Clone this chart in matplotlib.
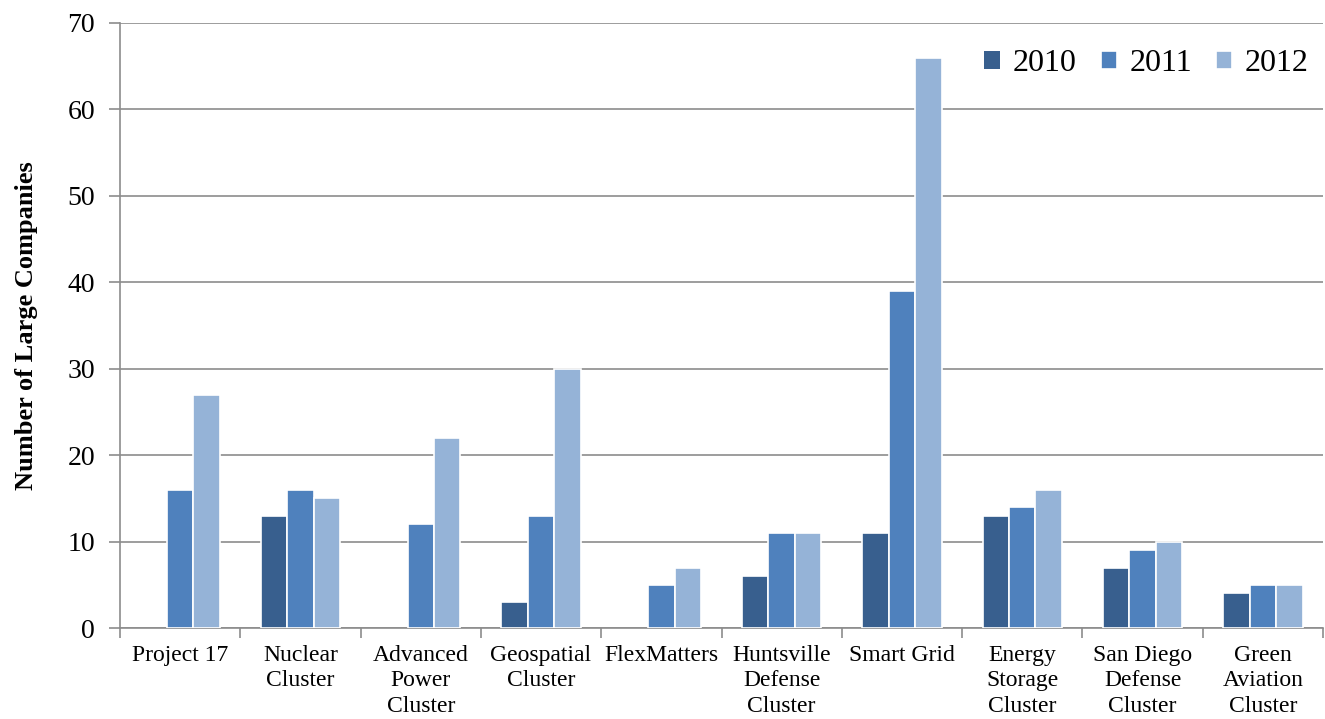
import numpy as np
import matplotlib.pyplot as plt

# data
categories = ["Project 17", "Nuclear\nCluster", "Advanced\nPower\nCluster",
              "Geospatial\nCluster", "FlexMatters", "Huntsville\nDefense\nCluster",
              "Smart Grid", "Energy\nStorage\nCluster", "San Diego\nDefense\nCluster",
              "Green\nAviation\nCluster"]
years = ["2010", "2011", "2012"]
v2010 = [0, 13, 0, 3, 0, 6, 11, 13, 7, 4]
v2011 = [16, 16, 12, 13, 5, 11, 39, 14, 9, 5]
v2012 = [27, 15, 22, 30, 7, 11, 66, 16, 10, 5]
colors = ["#385F8E", "#4F81BD", "#95B3D7"]

plt.rcParams['font.family'] = ['Liberation Serif', 'DejaVu Serif']

fig = plt.figure(figsize=(13.25, 7.19), dpi=100)
ax = fig.add_axes([120/1325, 91/719, 1203/1325, 605/719])

x = np.arange(len(categories))
w = 0.22
for i, vals in enumerate([v2010, v2011, v2012]):
    vals = np.array(vals)
    lw = np.where(vals > 0, 1.2, 0)  # no white edge on empty bars
    ax.bar(x + (i-1)*w, vals, w, color=colors[i], edgecolor='white',
           linewidth=lw, label=years[i], zorder=3)

ax.set_xlim(-0.5, len(categories)-0.5)
ax.set_ylim(0, 70)
ax.set_yticks(np.arange(0, 71, 10))
ax.yaxis.grid(True, color='#8c8c8c', linewidth=1.2, zorder=0)
ax.set_axisbelow(True)

# category labels centred, ticks on the boundaries
ax.set_xticks(x)
ax.set_xticklabels(categories, fontsize=17, linespacing=1.3)
ax.set_xticks(np.arange(-0.5, len(categories), 1), minor=True)
ax.tick_params(axis='x', which='major', length=0, pad=12)
ax.tick_params(axis='x', which='minor', length=7, color='#8c8c8c', width=1.2)
ax.tick_params(axis='y', length=8, color='#8c8c8c', width=1.2, labelsize=20, pad=10)

for s in ['top', 'right']:
    ax.spines[s].set_visible(False)
for s in ['left', 'bottom']:
    ax.spines[s].set_color('#8c8c8c')
    ax.spines[s].set_linewidth(1.2)

ax.set_ylabel("Number of Large Companies", fontsize=19, fontweight='bold')
ax.yaxis.set_label_coords(-82/1203, 0.5)

leg = ax.legend(loc='upper right', bbox_to_anchor=(1.012, 1.004), ncol=3, frameon=False,
                fontsize=23, handlelength=0.5, handleheight=0.5, handletextpad=0.4,
                columnspacing=0.75)

fig.savefig("out.png", dpi=100)
